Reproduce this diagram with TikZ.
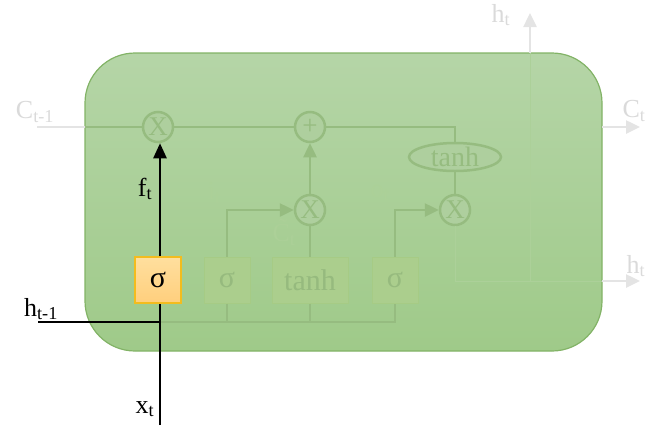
\documentclass[tikz,border=0pt]{standalone}
\usepackage{fontspec}
\setmainfont{Liberation Serif}
\usepackage{tikz}
\usetikzlibrary{arrows.meta,shapes.geometric,positioning}
\usepackage{xcolor}

\definecolor{cellTop}{RGB}{181,213,167}
\definecolor{cellBot}{RGB}{159,202,137}
\definecolor{cellLine}{RGB}{130,179,102}
\definecolor{wireC}{RGB}{150,188,128}
\definecolor{opFill}{RGB}{174,207,158}
\definecolor{gateFill}{RGB}{171,206,141}
\definecolor{gateLine}{RGB}{166,203,133}
\definecolor{gateTxt}{RGB}{150,186,126}
\definecolor{actTop}{RGB}{255,223,158}
\definecolor{actBot}{RGB}{255,207,125}
\definecolor{actLine}{RGB}{243,188,30}
\definecolor{outC}{RGB}{228,228,228}
\definecolor{outTxt}{RGB}{218,218,218}
\definecolor{ghostC}{RGB}{172,208,153}
\definecolor{ghostTxt}{RGB}{172,208,152}

\begin{document}
\begin{tikzpicture}[x=1pt,y=-1pt,
  lbl/.style={font=\fontsize{26}{26}\selectfont, inner sep=0pt},
  outlbl/.style={lbl, text=outTxt},
  ghostlbl/.style={lbl, text=ghostTxt},
  gate/.style={rectangle, minimum height=46pt, minimum width=46pt, inner sep=0pt, font=\fontsize{30}{30}\selectfont, draw=gateLine, fill=gateFill, text=gateTxt, line width=1pt},
  activegate/.style={gate, draw=actLine, top color=actTop, bottom color=actBot, text=black, line width=1.5pt},
  op/.style={circle, minimum size=30pt, inner sep=0pt, draw=wireC, fill=opFill, text=wireC, line width=2.5pt, font=\fontsize{27}{27}\selectfont},
  wire/.style={draw=wireC, line width=2.5pt},
  ghost/.style={draw=ghostC, line width=1pt},
  outwire/.style={draw=outC, line width=2.5pt},
  blk/.style={draw=black, line width=2.5pt},
  tip/.style={-{Triangle[length=14pt,width=13pt]}}]
\useasboundingbox (0,0) rectangle (647,432);

% cell
\shade [top color=cellTop, bottom color=cellBot, rounded corners=50pt] (85,53) rectangle (602,351);
\draw [cellLine, line width=1.2pt, rounded corners=50pt] (85,53) rectangle (602,351);

% in and out
\coordinate (cin) at (37,127);
\coordinate (cleft) at (85,127);
\coordinate (cright) at (602,127);
\coordinate (cout) at (640,127);
\coordinate (hin) at (38,322);
\coordinate (xin) at (160,425);
\coordinate (hjoin) at (530,281);
\coordinate (hright) at (602,281);
\coordinate (hout) at (640,281);
\coordinate (htop) at (530,13);
\coordinate (htopedge) at (530,53);
\coordinate (bus) at (395,322);

% operators
\node [op] (fX) at (158,127) {X};
\node [op] (plus) at (310,127) {+};
\node [op] (iX) at (310,210) {X};
\node [op] (oX) at (455,210) {X};
\node [ellipse, minimum width=92pt, minimum height=28pt, inner sep=0pt, draw=wireC, fill=opFill, text=wireC, line width=2.5pt, font=\fontsize{28}{28}\selectfont] (tanhC) at (455,157) {tanh};

% gates
\node [activegate] (fS) at (158,280) {σ};
\node [gate] (iS) at (227,280) {σ};
\node [gate, minimum width=76pt] (cT) at (310,280) {tanh};
\node [gate] (oS) at (395,280) {σ};

% faded wires
\draw [outwire] (cin) -- (cleft);
\draw [wire] (cleft) -- (fX.west);
\draw [wire] (fX.east) -- (plus.west);
\draw [wire] (plus.east) -| (tanhC.north);
\draw [wire] (tanhC.south) -- (oX.north);
\draw [wire, tip] (iX.north) -- (plus.south);
\draw [wire] (cT.north) -- (iX.south);
\draw [wire, tip] (iS.north) |- (iX.west);
\draw [wire, tip] (oS.north) |- (oX.west);
\draw [wire] (fS.south |- bus) -- (bus) -- (oS.south);
\draw [wire] (iS.south) -- (iS.south |- bus);
\draw [wire] (cT.south) -- (cT.south |- bus);
\draw [ghost] (oX.south) |- (hright);
\draw [ghost] (hjoin) -- (htopedge);
\draw [outwire, tip] (cright) -- (cout);
\draw [outwire, tip] (hright) -- (hout);
\draw [outwire, tip] (htopedge) -- (htop);

% forget gate path
\draw [blk] (hin) -- (hin -| xin);
\draw [blk] (xin) -- (fS.south -| xin);
\draw [blk, -{Triangle[length=15pt,width=13pt]}] (fS.north -| xin) -- (fX.south -| xin);

% labels
\node [outlbl] (cinL) at (35,112) {C\textsubscript{t-1}};
\node [outlbl] (coutL) at (634,111) {C\textsubscript{t}};
\node [outlbl] (htopL) at (501,15) {h\textsubscript{t}};
\node [outlbl] (houtL) at (636,266) {h\textsubscript{t}};
\node [lbl] (hinL) at (41,309) {h\textsubscript{t-1}};
\node [lbl] (xinL) at (145,409) {x\textsubscript{t}};
\node [lbl] (fL) at (145,189) {f\textsubscript{t}};
\node [ghostlbl] (iL) at (214,193) {i\textsubscript{t}};
\node [ghostlbl] (oL) at (380,193) {o\textsubscript{t}};
\node [ghostlbl] (cL) at (284,232) {\~{C}\textsubscript{t}};

\end{tikzpicture}
\end{document}
